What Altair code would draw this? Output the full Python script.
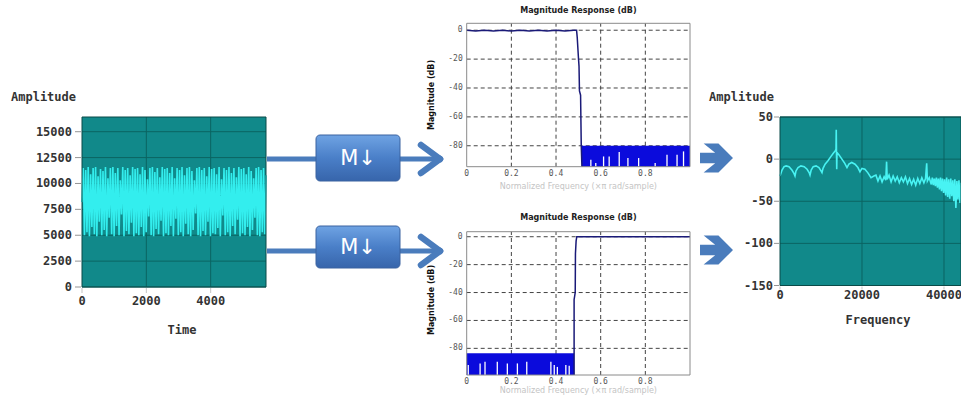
import altair as alt
import pandas as pd

# ---------------- data ----------------
# Left panel: time-domain signal
SIG_T_MAX = 5720
SIG_AMP = [
    8200, 11500, 5000, 11300, 5300, 11600, 4900, 10900, 5800, 11500,
    5100, 11600, 4900, 10700, 6300, 11400, 5000, 11200, 5500, 11600,
    4900, 10500, 6700, 11500, 5100, 11600, 4900, 11000, 5900, 11500,
    5000, 10300, 7000, 11600, 4900, 11300, 5400, 11500, 5100, 10800,
    6200, 11600, 4900, 11400, 5200, 11500, 5000, 10900, 5800, 11600,
    4900, 11300, 5300, 10400, 6800, 11500, 5000, 11600, 4900, 11100,
    5600, 11500, 5100, 10600, 6400, 11600, 4900, 11400, 5200, 11500,
    5000, 11000, 5900, 11600, 4900, 10500, 6600, 11500, 5000, 11300,
    5300, 11600, 4900, 10800, 6100, 11500, 5100, 11600, 4900, 11200,
    5500, 10300, 7100, 11500, 5000, 11600, 4900, 11300, 5400, 11500,
    5000, 10700, 6300, 11600, 4900, 11400, 5200, 11500, 5100, 10900,
    5700, 11600, 4900, 10400, 6900, 11500, 5000, 11300, 5300, 11600,
    4900, 11000, 5900, 11500, 5100, 10600, 6500, 11600, 4900, 11400,
    5200, 11500, 5000, 10900, 5800, 11600, 4900, 11200, 5500, 10500,
    6700, 11500, 5000, 11600, 4900, 11300, 5300, 11500, 5100, 10800,
]
LEFT_Y_MAX = 16420
LEFT_X_TICKS = [0, 2000, 4000]
LEFT_Y_TICKS = [0, 2500, 5000, 7500, 10000, 12500, 15000]

# Middle panels: magnitude responses (dB vs normalized frequency)
MAG_X_TICKS = [0, 0.2, 0.4, 0.6, 0.8]
MAG_Y_TICKS = [0, -20, -40, -60, -80]

LP_Y_DOMAIN = [-94.5, 4.8]
LP_FREQ = [0, 0.04, 0.08, 0.12, 0.16, 0.2, 0.24, 0.28, 0.32, 0.36, 0.4, 0.44,
           0.48, 0.492, 0.495, 0.5, 0.503, 0.505, 0.51, 0.513, 0.516]
LP_DB = [0, -0.6, 0, -0.6, 0, -0.6, 0, -0.6, 0, -0.6, 0, -0.6,
         0, 0, -5, -18, -25, -42, -45, -80, -94.5]
LP_STOP_FREQ = [0.516, 1.0]
LP_STOP_DB = [-80, -80]
LP_GAP_FREQ = [0.556, 0.578, 0.613, 0.638, 0.683, 0.722, 0.770, 0.844, 0.897, 0.942, 0.971]
LP_GAP_DB = [-89.7, -92, -87.4, -87.4, -84.4, -88.5, -88.5, -92, -86.2, -86.2, -83.9]

HP_Y_DOMAIN = [-99.1, 3.6]
HP_FREQ = [0.481, 0.481, 0.486, 0.487, 0.490, 0.493, 0.6, 0.7, 0.8, 0.9, 1.0]
HP_DB = [-99.1, -45, -40, -12, -3, 0, 0, 0, 0, 0, 0]
HP_STOP_FREQ = [0, 0.481]
HP_STOP_DB = [-83.6, -83.6]
HP_GAP_FREQ = [0.007, 0.060, 0.082, 0.137, 0.182, 0.227, 0.269, 0.377, 0.392, 0.406, 0.444, 0.459]
HP_GAP_DB = [-92, -90.8, -89.6, -89.6, -90.8, -90.8, -89.6, -89.6, -92, -93.3, -92, -92.5]

# Right panel: spectrum
RIGHT_X_MAX = 44150
RIGHT_Y_DOMAIN = [-150, 50]
RIGHT_X_TICKS = [0, 20000, 40000]
RIGHT_Y_TICKS = [50, 0, -50, -100, -150]
SPEC_FREQ = [
    0, 500, 1000, 1500, 2200, 2900, 3400, 3660,
    3900, 4400, 5100, 5900, 6600, 7100, 7320,
    7600, 8100, 8800, 9500, 10000, 10240,
    10500, 11000, 11700, 12400, 13000, 13500, 13660, 13720, 13780, 13840, 13900,
    14400, 15100, 15800, 16340,
    16800, 17500, 18300, 19000, 19510,
    20000, 20700, 21400, 22200, 22900,
    23400, 23900, 24400, 24900, 25400, 25800, 26000, 26150, 26600, 27100,
    27600, 28100, 28600, 29100, 29600, 30100, 30600, 31100, 31600, 32100,
    32600, 33100, 33600, 34100, 34600, 35100, 35500, 35780, 35950, 36400,
    36900, 37150, 37400, 37650, 37900, 38150, 38400, 38650, 38900, 39150,
    39400, 39650, 39900, 40150, 40400, 40650, 40900, 41150, 41400, 41650,
    41900, 42150, 42400, 42650, 42900, 43150, 43400, 43650, 43900, 44150,
]
SPEC_DB = [
    -20, -13, -9, -8, -9, -13, -17, -20,
    -14, -10, -8, -9, -12, -16, -19,
    -13, -9, -8, -10, -14, -16,
    -11, -6, -2, 3, 7, 10, 12, 35, 8, -12, 8,
    5, 0, -5, -10,
    -6, -4, -6, -10, -15,
    -11, -12, -16, -22, -20,
    -19, -26, -20, -27, -21, -25, -3, -24, -19, -27,
    -20, -26, -21, -28, -22, -27, -21, -29, -23, -30,
    -24, -31, -23, -29, -22, -28, -23, -5, -26, -22,
    -30, -22, -31, -23, -32, -22, -34, -23, -36, -22,
    -38, -23, -40, -24, -43, -22, -45, -24, -47, -23,
    -44, -25, -50, -24, -58, -26, -48, -25, -52, -28,
]

# ---------------- style ----------------
W, H = 961, 396
TEAL = "#11898a"
TEAL_GRID = "#0b6462"
TEAL_FRAME = "#0a4a48"
CYAN_L = "#33eeee"
CYAN_R = "#48f3f3"
MONO = "DejaVu Sans Mono"
SANS = "DejaVu Sans"
TXT = "#333333"
ARROW = "#4a7cbc"
NAVY = "#1a1a78"
BLUE_FILL = "#0b0bdc"
ONE = pd.DataFrame({"k": [0]})


def fmt(v):
    return f"{v:g}"


def tick_labels(xs, ys, vals, fixed, horizontal, pad, font, size, weight, color):
    """Axis tick labels drawn as text marks placed through the panel scales."""
    df = pd.DataFrame({"v": vals, "lab": [fmt(v) for v in vals]}).assign(f=fixed)
    if horizontal:  # labels under the x axis
        mk = alt.Chart(df).mark_text(dy=pad, baseline="top", align="center", font=font,
                                      fontSize=size, fontWeight=weight, color=color)
        return mk.encode(x=alt.X("v:Q", scale=xs, axis=None),
                         y=alt.Y("f:Q", scale=ys, axis=None), text="lab:N")
    mk = alt.Chart(df).mark_text(dx=-pad, baseline="middle", align="right", font=font,
                                  fontSize=size, fontWeight=weight, color=color)
    return mk.encode(y=alt.Y("v:Q", scale=ys, axis=None),
                     x=alt.X("f:Q", scale=xs, axis=None), text="lab:N")


def label(text, x, y, font=MONO, size=12, weight="bold", color=TXT, align="center", angle=0):
    return alt.Chart(ONE).mark_text(text=text, font=font, fontSize=size, fontWeight=weight,
                                    color=color, align=align, baseline="middle", angle=angle).encode(
        x=alt.value(x), y=alt.value(y))


def teal_panel(x_dom, x_rng, y_dom, y_rng, x_ticks, y_ticks, xs_data, ys_data,
               line_color, line_w, x_lab_pad, y_lab_pad, x_tick_len, y_tick_len):
    xs = alt.Scale(domain=x_dom, range=x_rng, nice=False, zero=False)
    ys = alt.Scale(domain=y_dom, range=y_rng, nice=False, zero=False)
    box = pd.DataFrame({"x0": [x_dom[0]], "x1": [x_dom[1]], "y0": [y_dom[0]], "y1": [y_dom[1]]})
    bg = alt.Chart(box).mark_rect(fill=TEAL).encode(
        x=alt.X("x0:Q", scale=xs, axis=None), x2="x1:Q",
        y=alt.Y("y0:Q", scale=ys, axis=None), y2="y1:Q")
    vgrid = alt.Chart(pd.DataFrame({"t": x_ticks[1:]}).assign(y0=y_dom[0], y1=y_dom[1])).mark_rule(
        color=TEAL_GRID, strokeWidth=1).encode(
        x=alt.X("t:Q", scale=xs, axis=None),
        y=alt.Y("y0:Q", scale=ys, axis=None), y2="y1:Q")
    hgrid = alt.Chart(pd.DataFrame({"v": y_ticks}).assign(x0=x_dom[0], x1=x_dom[1])).mark_rule(
        color=TEAL_GRID, strokeWidth=1).encode(
        y=alt.Y("v:Q", scale=ys, axis=None),
        x=alt.X("x0:Q", scale=xs, axis=None), x2="x1:Q")
    line = alt.Chart(pd.DataFrame({"x": xs_data, "y": ys_data, "i": list(range(len(xs_data)))})).mark_line(
        color=line_color, strokeWidth=line_w, clip=True).encode(
        x=alt.X("x:Q", scale=xs, axis=None),
        y=alt.Y("y:Q", scale=ys, axis=None), order="i:Q")
    frame = alt.Chart(box).mark_rect(fillOpacity=0, stroke=TEAL_FRAME, strokeWidth=1).encode(
        x=alt.X("x0:Q", scale=xs, axis=None), x2="x1:Q",
        y=alt.Y("y0:Q", scale=ys, axis=None), y2="y1:Q")
    yt = alt.Chart(pd.DataFrame({"v": y_ticks}).assign(f=x_dom[0])).mark_tick(
        orient="horizontal", size=y_tick_len, thickness=1, color="#666666",
        xOffset=-(y_tick_len / 2 + 1)).encode(
        y=alt.Y("v:Q", scale=ys, axis=None), x=alt.X("f:Q", scale=xs, axis=None))
    xt = alt.Chart(pd.DataFrame({"v": x_ticks}).assign(f=y_dom[0])).mark_tick(
        orient="vertical", size=x_tick_len, thickness=1, color="#aaaaaa",
        yOffset=x_tick_len / 2 + 1).encode(
        x=alt.X("v:Q", scale=xs, axis=None), y=alt.Y("f:Q", scale=ys, axis=None))
    xl = tick_labels(xs, ys, x_ticks, y_dom[0], True, x_lab_pad, MONO, 12, "bold", TXT)
    yl = tick_labels(xs, ys, y_ticks, x_dom[0], False, y_lab_pad, MONO, 12, "bold", TXT)
    return alt.layer(bg, vgrid, hgrid, line, frame, yt, xt, xl, yl)


def mag_panel(x_rng, y_dom, y_rng, line_f, line_db, stop_f, stop_db, gap_f, gap_db,
              title_y, ytitle_y, xtitle_y):
    xs = alt.Scale(domain=[0, 1], range=x_rng, nice=False, zero=False)
    ys = alt.Scale(domain=y_dom, range=y_rng, nice=False, zero=False)
    base = y_dom[0]
    box = pd.DataFrame({"x0": [0], "x1": [1], "y0": [y_dom[0]], "y1": [y_dom[1]]})
    bg = alt.Chart(box).mark_rect(fill="white").encode(
        x=alt.X("x0:Q", scale=xs, axis=None), x2="x1:Q",
        y=alt.Y("y0:Q", scale=ys, axis=None), y2="y1:Q")
    vgrid = alt.Chart(pd.DataFrame({"t": MAG_X_TICKS[1:]}).assign(y0=y_dom[0], y1=y_dom[1])).mark_rule(
        color="#444444", strokeWidth=1, strokeDash=[4, 3]).encode(
        x=alt.X("t:Q", scale=xs, axis=None),
        y=alt.Y("y0:Q", scale=ys, axis=None), y2="y1:Q")
    hgrid = alt.Chart(pd.DataFrame({"v": MAG_Y_TICKS}).assign(x0=0, x1=1)).mark_rule(
        color="#444444", strokeWidth=1, strokeDash=[4, 3]).encode(
        y=alt.Y("v:Q", scale=ys, axis=None),
        x=alt.X("x0:Q", scale=xs, axis=None), x2="x1:Q")
    stop = alt.Chart(pd.DataFrame({"f": stop_f, "db": stop_db}).assign(b=base)).mark_area(
        color=BLUE_FILL, opacity=1).encode(
        x=alt.X("f:Q", scale=xs, axis=None),
        y=alt.Y("db:Q", scale=ys, axis=None), y2="b:Q")
    gaps = alt.Chart(pd.DataFrame({"f": gap_f, "db": gap_db}).assign(b=base)).mark_rule(
        color="white", strokeWidth=1.3).encode(
        x=alt.X("f:Q", scale=xs, axis=None),
        y=alt.Y("db:Q", scale=ys, axis=None), y2="b:Q")
    line = alt.Chart(pd.DataFrame({"f": line_f, "db": line_db, "i": list(range(len(line_f)))})).mark_line(
        color=NAVY, strokeWidth=1.5).encode(
        x=alt.X("f:Q", scale=xs, axis=None),
        y=alt.Y("db:Q", scale=ys, axis=None), order="i:Q")
    frame = alt.Chart(box).mark_rect(fillOpacity=0, stroke="#8a8a8a", strokeWidth=1).encode(
        x=alt.X("x0:Q", scale=xs, axis=None), x2="x1:Q",
        y=alt.Y("y0:Q", scale=ys, axis=None), y2="y1:Q")
    xl = tick_labels(xs, ys, MAG_X_TICKS, y_dom[0], True, 3, MONO, 8, "normal", "#555555")
    yl = tick_labels(xs, ys, MAG_Y_TICKS, 0, False, 4, MONO, 8, "normal", "#555555")
    cx = (x_rng[0] + x_rng[1]) / 2
    title = label("Magnitude Response (dB)", cx, title_y, font=SANS, size=8, color="#222222")
    ytitle = label("Magnitude (dB)", 432, ytitle_y, font=SANS, size=8, color="#111111", angle=270)
    xtitle = label("Normalized Frequency  (\u00d7\u03c0 rad/sample)", cx, xtitle_y, font=SANS,
                   size=8, weight="normal", color="#c4c4c4")
    return alt.layer(bg, vgrid, hgrid, stop, gaps, line, frame, xl, yl, title, ytitle, xtitle)


# ---------------- panels ----------------
sig_t = [i * SIG_T_MAX / (len(SIG_AMP) - 1) for i in range(len(SIG_AMP))]
left = teal_panel([0, SIG_T_MAX], [82, 266], [0, LEFT_Y_MAX], [287, 117],
                  LEFT_X_TICKS, LEFT_Y_TICKS, sig_t, SIG_AMP, CYAN_L, 1.6, 9, 10, 5, 6)
right = teal_panel([0, RIGHT_X_MAX], [780, 961], RIGHT_Y_DOMAIN, [285.5, 117],
                   RIGHT_X_TICKS, RIGHT_Y_TICKS, SPEC_FREQ, SPEC_DB, CYAN_R, 1.6, 4, 7, 3, 5)
lp = mag_panel([466.7, 690], LP_Y_DOMAIN, [166.7, 23.3], LP_FREQ, LP_DB,
               LP_STOP_FREQ, LP_STOP_DB, LP_GAP_FREQ, LP_GAP_DB, 11, 95, 187)
hp = mag_panel([466.7, 690], HP_Y_DOMAIN, [375, 231.7], HP_FREQ, HP_DB,
               HP_STOP_FREQ, HP_STOP_DB, HP_GAP_FREQ, HP_GAP_DB, 218, 300, 391)

titles = alt.layer(
    label("Amplitude", 11, 97, align="left"),
    label("Time", 182, 330),
    label("Amplitude", 709, 97, align="left"),
    label("Frequency", 878, 320),
)

# ---------------- diagram decorations ----------------
box_fill = alt.Gradient(
    gradient="linear", x1=0, x2=0, y1=0, y2=1,
    stops=[alt.GradientStop(color="#6fa3e3", offset=0),
           alt.GradientStop(color="#4a7fc8", offset=0.5),
           alt.GradientStop(color="#3765ab", offset=1)])
CHEVRON = ("M -1 -0.32 L -0.08 -0.32 L -0.78 -0.88 L 0.12 -0.88 L 1 0 "
           "L 0.12 0.88 L -0.78 0.88 L -0.08 0.32 L -1 0.32 Z")

decor_layers = []
for cy, top, bot in [(159, 135, 181), (251, 226, 268)]:
    decor_layers.append(alt.Chart(ONE).mark_rule(color=ARROW, strokeWidth=5).encode(
        x=alt.value(267), x2=alt.value(318), y=alt.value(cy), y2=alt.value(cy)))
    decor_layers.append(alt.Chart(ONE).mark_rule(color=ARROW, strokeWidth=5).encode(
        x=alt.value(398), x2=alt.value(438), y=alt.value(cy), y2=alt.value(cy)))
    for dy in (-14, 14):
        decor_layers.append(alt.Chart(ONE).mark_rule(color=ARROW, strokeWidth=6.5, strokeCap="round").encode(
            x=alt.value(421), x2=alt.value(440), y=alt.value(cy + dy), y2=alt.value(cy)))
    decor_layers.append(alt.Chart(ONE).mark_rect(
        fill=box_fill, cornerRadius=4, stroke="#3a62a0", strokeWidth=1).encode(
        x=alt.value(316), x2=alt.value(400), y=alt.value(top), y2=alt.value(bot)))
    decor_layers.append(alt.Chart(ONE).mark_text(
        text="M\u2193", font=SANS, fontSize=21, color="white",
        align="center", baseline="middle").encode(
        x=alt.value(358), y=alt.value((top + bot) / 2 + 1)))
    decor_layers.append(alt.Chart(ONE).mark_point(
        shape=CHEVRON, size=1089, filled=True, color=ARROW, opacity=1, strokeWidth=0).encode(
        x=alt.value(716.5), y=alt.value(cy - 1)))

decor = alt.layer(*decor_layers)

chart = alt.layer(left, lp, hp, right, titles, decor).resolve_scale(
    x="independent", y="independent"
).properties(
    width=W, height=H, padding=0,
    autosize=alt.AutoSizeParams(type="none"),
    background="white",
).configure_view(strokeWidth=0)

chart.save("out.html", embed_options={"renderer": "svg", "actions": False})
